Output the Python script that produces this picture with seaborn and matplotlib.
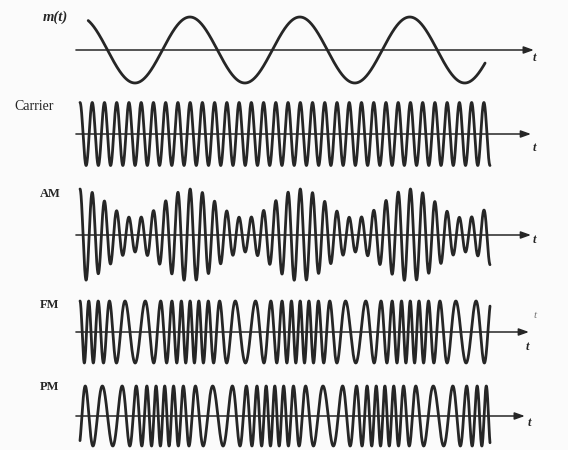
import numpy as np
import pandas as pd
import matplotlib
matplotlib.use("Agg")
import matplotlib.pyplot as plt
import seaborn as sns

# ---- values ----
panel_names = ["m(t)", "Carrier", "AM", "FM", "PM"]
message_cycles = 3.73        # cycles of m(t) across the drawn window
carrier_cycles = 33.5        # carrier cycles across the drawn window
am_index = 0.46              # AM modulation index
fm_deviation_cycles = 14.0   # peak frequency deviation (cycles per window)
pm_index = 3.75              # PM phase deviation (rad)
axis_label = "t"

# ---- layout (pixels of a 568x450 canvas) ----
W, H = 568, 450
centers = [50, 134, 235, 332, 416]     # baseline y
amps = [33, 31.5, 46, 31, 30]          # peak height in px
x0_px, span_px = 80, 410               # wave window
axis_end = [1.107, 1.10, 1.10, 1.095, 1.085]
label_pos = [(43, 17), (14, 106), (40, 194), (40, 305), (40, 387)]
t_pos = [(534, 58), (534, 148), (534, 240), (527, 347), (529, 423)]

sns.set_theme(style="white")
plt.rcParams["font.family"] = ["Liberation Serif", "DejaVu Serif"]
ink = "#262626"

n = 8000
t = np.linspace(0.0, 1.0, n)
m = np.cos(2 * np.pi * message_cycles * t)
carrier = np.cos(2 * np.pi * carrier_cycles * t)
am = (1 + am_index * m) * carrier
beta = fm_deviation_cycles / message_cycles
fm = np.cos(2 * np.pi * carrier_cycles * t + beta * np.sin(2 * np.pi * message_cycles * t))
pm = np.cos(2 * np.pi * carrier_cycles * t + pm_index * m)

tm = (t >= 0.02) & (t <= 0.988)
signals = [(t[tm], m[tm], 1.0), (t, carrier, 1.0), (t, am, 1 + am_index), (t, fm, 1.0), (t, pm, 1.0)]

fig = plt.figure(figsize=(W / 100, H / 100), dpi=100)
fig.patch.set_facecolor("#fbfbfb")

xlim = (-x0_px / span_px, (W - x0_px) / span_px)
for i, (name, (tt, vv, peak)) in enumerate(zip(panel_names, signals)):
    A = amps[i]
    hpx = 3 * A
    bottom = (H - centers[i] - 1.5 * A) / H
    ax = fig.add_axes([0, bottom, 1, hpx / H])
    ax.set_facecolor("none")
    df = pd.DataFrame({"t": tt, "v": vv})
    sns.lineplot(data=df, x="t", y="v", ax=ax, color=ink, linewidth=2.0,
                 estimator=None, sort=False)
    ax.set_xlim(*xlim)
    ax.set_ylim(-1.5 * peak, 1.5 * peak)
    ax.annotate("", xy=(axis_end[i], 0), xytext=(-0.01, 0),
                arrowprops=dict(arrowstyle="-|>,head_length=0.5,head_width=0.18",
                                lw=1.1, color=ink, shrinkA=0, shrinkB=0))
    ax.set_axis_off()
    lx, ly = label_pos[i]
    if name == "m(t)":
        fig.text(lx / W, 1 - ly / H, "m(t)", fontsize=10.5, color=ink, style="italic",
                 weight="bold", va="center", ha="left")
    elif name == "Carrier":
        fig.text(lx / W, 1 - ly / H, name, fontsize=10, color=ink,
                 va="center", ha="left")
    else:
        fig.text(lx / W, 1 - ly / H, name, fontsize=9, color=ink, weight="bold",
                 va="center", ha="left")
    tx, ty = t_pos[i]
    fig.text(tx / W, 1 - ty / H, axis_label, fontsize=9, color=ink, style="italic",
             weight="bold", va="center", ha="center")

# faint stray "t" mark visible beside the FM trace in the scan
fig.text(535 / W, 1 - 316 / H, axis_label, fontsize=8, color="#777777", style="italic",
         va="center", ha="center")

fig.savefig("out.png", dpi=100, facecolor=fig.get_facecolor())
